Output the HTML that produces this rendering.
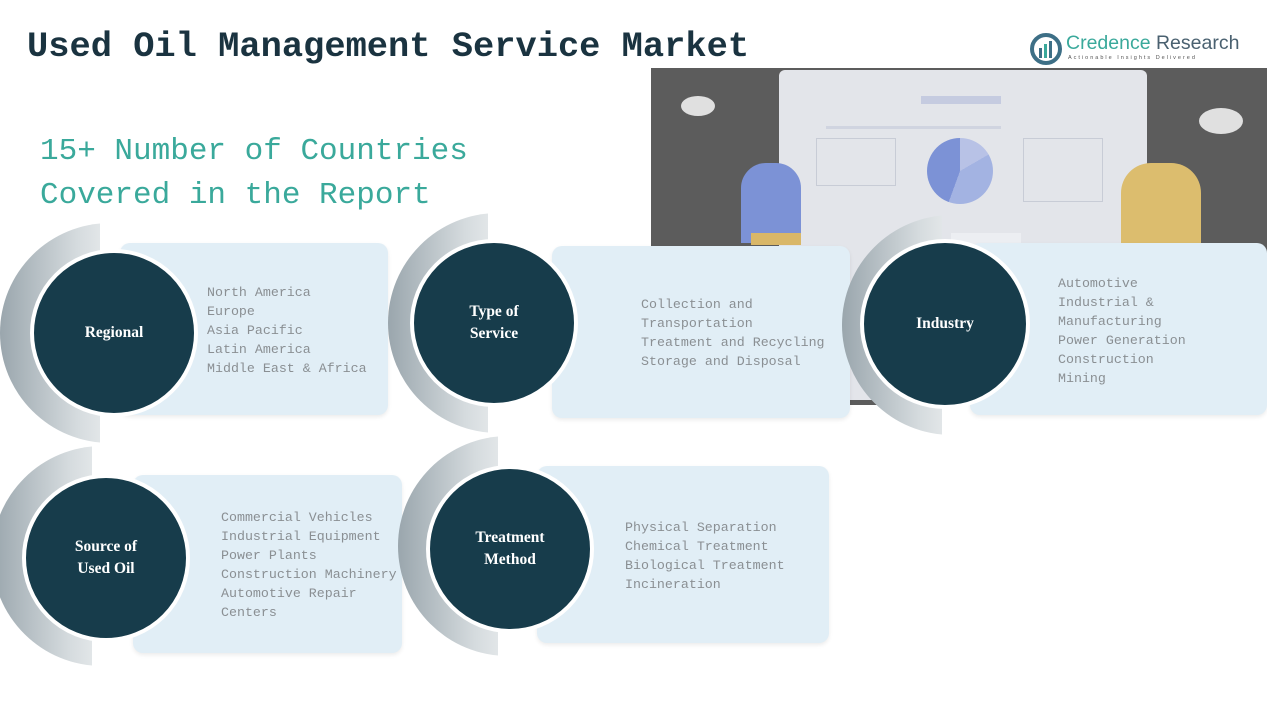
<!DOCTYPE html>
<html><head><meta charset="utf-8"><style>
*{margin:0;padding:0;box-sizing:border-box}
body{width:1267px;height:713px;background:#fff;position:relative;overflow:hidden;font-family:"Liberation Mono",monospace}
.a{position:absolute}
.title{left:27px;top:27px;font-size:35.4px;font-weight:bold;color:#1a3340;white-space:nowrap;font-family:"Liberation Mono",monospace}
.sub{left:40px;top:130px;font-size:31px;color:#3aa99b;line-height:44px;white-space:nowrap}
.card{background:#e1eef6;border-radius:10px;box-shadow:0 2px 4px rgba(0,0,0,.08)}
.cres{border-radius:50%;background:linear-gradient(90deg,#9aa6ad 0%,#d5dbde 35%,#ffffff 70%)}
.dk{border-radius:50%;background:#173c4b;border:4px solid #fff;color:#fff;font-weight:bold;font-size:15.5px;display:flex;align-items:center;justify-content:center;text-align:center;line-height:22px;font-family:"Liberation Serif",serif}
.list{font-size:13.3px;color:#8a8f93;line-height:19px;white-space:pre}
</style></head><body>
<div class="a title">Used Oil Management Service Market</div>
<div class="a sub">15+ Number of Countries<br>Covered in the Report</div>

<svg class="a" style="left:1030px;top:33px" width="32" height="32" viewBox="0 0 32 32"><circle cx="16" cy="16" r="14" fill="none" stroke="#3d6f86" stroke-width="4"/><rect x="9" y="15" width="3" height="10" fill="#3d6f86"/><rect x="14" y="11" width="3" height="14" fill="#3aa99b"/><rect x="19" y="8" width="3" height="17" fill="#3d6f86"/></svg>
<div class="a" style="left:1066px;top:32px;font-family:'Liberation Sans',sans-serif;font-size:19.5px;color:#3aa99b;white-space:nowrap">Credence <span style="color:#4a6170">Research</span></div>
<div class="a" style="left:1068px;top:55px;font-family:'Liberation Sans',sans-serif;font-size:5.5px;letter-spacing:2px;color:#555;white-space:nowrap">Actionable Insights Delivered</div>

<div class="a" style="left:651px;top:68px;width:616px;height:337px;background:#5c5c5c;overflow:hidden">
 <div class="a" style="left:128px;top:2px;width:368px;height:330px;background:#e3e5ea;border-radius:6px"></div>
 <div class="a" style="left:270px;top:28px;width:80px;height:8px;background:#c5cbe0"></div>
 <div class="a" style="left:175px;top:58px;width:175px;height:3px;background:#d0d4e0"></div>
 <div class="a" style="left:165px;top:70px;width:80px;height:48px;border:1px solid #c8ccd6"></div>
 <div class="a" style="left:276px;top:70px;width:66px;height:66px;border-radius:50%;background:conic-gradient(#b8c2e6 0 60deg,#a3b3e2 60deg 200deg,#7c92d6 200deg 360deg)"></div>
 <div class="a" style="left:372px;top:70px;width:80px;height:64px;border:1px solid #c8ccd6"></div>
 <div class="a" style="left:30px;top:28px;width:34px;height:20px;border-radius:50%;background:#e0e0e0"></div>
 <div class="a" style="left:548px;top:40px;width:44px;height:26px;border-radius:50%;background:#e0e0e0"></div>
 <div class="a" style="left:90px;top:95px;width:60px;height:80px;border-radius:25px 25px 0 0;background:#7c92d6"></div>
 <div class="a" style="left:100px;top:165px;width:50px;height:12px;background:#d9b768"></div>
 <div class="a" style="left:470px;top:95px;width:80px;height:80px;border-radius:30px 30px 0 0;background:#dcbd6e"></div>
 <div class="a" style="left:300px;top:165px;width:70px;height:20px;background:#eceef2"></div>
</div>

<div class="a card" style="left:120px;top:243px;width:268px;height:172px"></div>
<div class="a cres" style="left:0px;top:223px;width:220px;height:220px;clip-path:inset(0 120px 0 0)"></div>
<div class="a dk" style="left:30px;top:249px;width:168px;height:168px">Regional</div>
<div class="a list" style="left:207px;top:283px">North America
Europe
Asia Pacific
Latin America
Middle East &amp; Africa</div>

<div class="a card" style="left:552px;top:246px;width:298px;height:172px"></div>
<div class="a cres" style="left:388px;top:213px;width:220px;height:220px;clip-path:inset(0 120px 0 0)"></div>
<div class="a dk" style="left:410px;top:239px;width:168px;height:168px">Type of<br>Service</div>
<div class="a list" style="left:641px;top:295px">Collection and
Transportation
Treatment and Recycling
Storage and Disposal</div>

<div class="a card" style="left:970px;top:243px;width:297px;height:172px"></div>
<div class="a cres" style="left:842px;top:215px;width:220px;height:220px;clip-path:inset(0 120px 0 0)"></div>
<div class="a dk" style="left:860px;top:239px;width:170px;height:170px">Industry</div>
<div class="a list" style="left:1058px;top:274px">Automotive
Industrial &amp;
Manufacturing
Power Generation
Construction
Mining</div>

<div class="a card" style="left:133px;top:475px;width:269px;height:178px"></div>
<div class="a cres" style="left:-8px;top:446px;width:220px;height:220px;clip-path:inset(0 120px 0 0)"></div>
<div class="a dk" style="left:22px;top:474px;width:168px;height:168px">Source of<br>Used Oil</div>
<div class="a list" style="left:221px;top:508px">Commercial Vehicles
Industrial Equipment
Power Plants
Construction Machinery
Automotive Repair
Centers</div>

<div class="a card" style="left:537px;top:466px;width:292px;height:177px"></div>
<div class="a cres" style="left:398px;top:436px;width:220px;height:220px;clip-path:inset(0 120px 0 0)"></div>
<div class="a dk" style="left:426px;top:465px;width:168px;height:168px">Treatment<br>Method</div>
<div class="a list" style="left:625px;top:518px">Physical Separation
Chemical Treatment
Biological Treatment
Incineration</div>
</body></html>
